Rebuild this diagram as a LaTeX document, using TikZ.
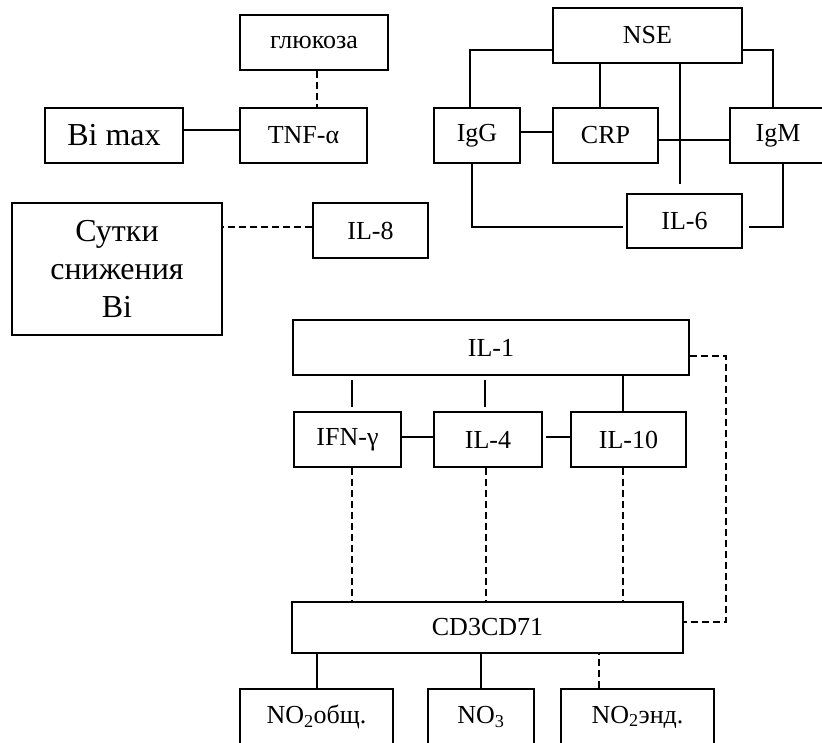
\documentclass[tikz,border=0pt]{standalone}
\usepackage{fontspec}
\setmainfont{Liberation Serif}
\usetikzlibrary{calc}
\tikzset{
	blok/.style={draw, line width=2pt, inner sep=0pt, font=\fontsize{26}{30}\selectfont},
	krupno/.style={font=\fontsize{32}{38}\selectfont, align=center},
	svyaz/.style={line width=2pt},
	punktir/.style={line width=2pt, dash pattern=on 7pt off 4pt},
}
\def\blok[#1](#2)(#3,#4)(#5,#6)#7{\node[blok,#1,minimum width=#5pt,minimum height=#6pt] (#2) at (#3,#4) {#7};}

\begin{document}
\begin{tikzpicture}[x=1pt, y=-1pt]
			%%%%% START %%%%%
			\useasboundingbox (0,0) rectangle (822,742);
			
			\blok[](gluk)(314,42.5)(148,55){глюкоза}
			\blok[krupno](bimax)(114,135.5)(138,55){Bi max}
			\blok[](tnf)(303.5,135.5)(127,55){TNF-α}
			\blok[krupno](sutki)(117,269)(210,132){Сутки\\снижения\\Bi}
			\blok[](il8)(370.5,230.5)(115,55){IL-8}
			
			\draw[punktir] ([xshift=3pt]gluk.south) -- ([xshift=3pt]gluk.south |- tnf.north);
			\draw[svyaz] (bimax.east |- 0,130) -- (tnf.west |- 0,130);
			\draw[punktir] (il8.west |- 0,227) -- (sutki.east |- 0,227);
			
			\blok[](nse)(647.5,35.5)(189,55){NSE}
			\blok[](igg)(477,135.5)(86,55){IgG}
			\blok[](crp)(605.5,135.5)(105,55){CRP}
			\blok[](igm)(778,135.5)(96,55){IgM}
			\blok[](il6)(684.5,221)(115,54){IL-6}
			
			\draw[svyaz] ([yshift=-14pt]nse.west) -| ([xshift=-7pt]igg.north);
			\draw[svyaz] ([yshift=-14pt]nse.east) -| ([xshift=-5pt]igm.north);
			\draw[svyaz] ([xshift=-6pt]crp.north) -- ([xshift=-6pt]crp.north |- nse.south);
			\draw[svyaz, shorten <=9pt] ([xshift=-5pt]il6.north) -- ([xshift=-5pt]il6.north |- nse.south);
			\draw[svyaz] ([yshift=4pt]igg.east) -- ([yshift=4pt]crp.west);
			\draw[svyaz] ([yshift=-4.5pt]crp.east) -- ([yshift=-4.5pt]igm.west);
			\draw[svyaz] ([xshift=-5pt]igg.south) |- ([xshift=-3pt,yshift=-6pt]il6.west);
			\draw[svyaz] ([xshift=5pt]igm.south) |- ([xshift=6pt,yshift=-6pt]il6.east);
			
			\blok[](il1)(491,347.5)(396,55){IL-1}
			\blok[](ifn)(347.5,439.5)(107,55){IFN-γ}
			\blok[](il4)(488,439.5)(108,55){IL-4}
			\blok[](il10)(628.5,439.5)(115,55){IL-10}
			
			\draw[svyaz, shorten <=4pt, shorten >=4pt] ([xshift=4.5pt]ifn.north) -- ([xshift=4.5pt]ifn.north |- il1.south);
			\draw[svyaz, shorten <=4pt, shorten >=4pt] ([xshift=-3pt]il4.north) -- ([xshift=-3pt]il4.north |- il1.south);
			\draw[svyaz] ([xshift=-5.5pt]il10.north) -- ([xshift=-5.5pt]il10.north |- il1.south);
			\draw[svyaz] ([yshift=2.5pt]ifn.east) -- ([yshift=2.5pt]il4.west);
			\draw[svyaz, shorten <=3pt] ([yshift=2.5pt]il4.east) -- ([yshift=2.5pt]il10.west);
			
			\blok[](cd3)(487.5,627.5)(391,51){CD3CD71}
			
			\draw[punktir] ([xshift=4.5pt]ifn.south) -- ([xshift=4.5pt]ifn.south |- cd3.north);
			\draw[punktir] ([xshift=-2pt]il4.south) -- ([xshift=-2pt]il4.south |- cd3.north);
			\draw[punktir] ([xshift=-5.5pt]il10.south) -- ([xshift=-5.5pt]il10.south |- cd3.north);
			\draw[punktir] ([yshift=-8.5pt]il1.east) -- ++(36,0) |- ([yshift=5.5pt]cd3.east);
			
			\blok[](no2o)(316.5,717)(153,56){NO\textsubscript{2}общ.}
			\blok[](no3)(481,717)(106,56){NO\textsubscript{3}}
			\blok[](no2e)(637.5,717)(153,56){NO\textsubscript{2}энд.}
			
			\draw[svyaz] (no2o.north) -- (no2o.north |- cd3.south);
			\draw[svyaz] (no3.north) -- (no3.north |- cd3.south);
			\draw[punktir] ([xshift=-38.5pt]no2e.north) -- ([xshift=-38.5pt]no2e.north |- cd3.south);
			%%%%% END %%%%%
		\end{tikzpicture}
\end{document}
